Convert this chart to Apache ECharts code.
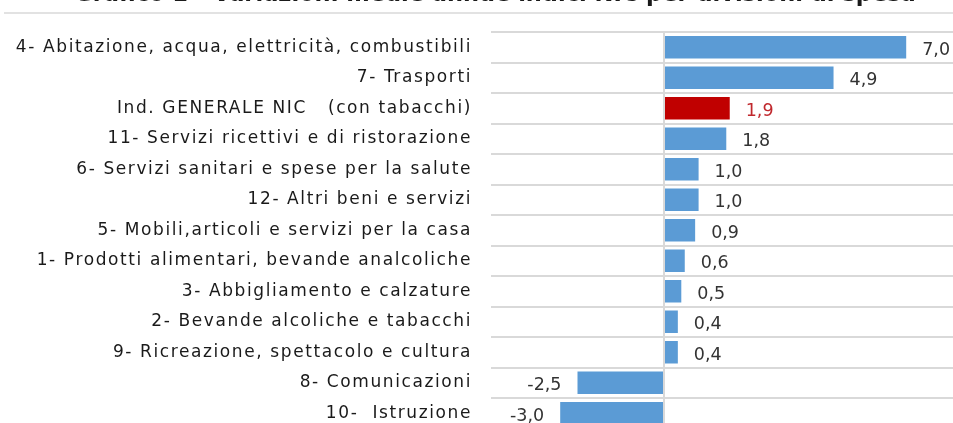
<!DOCTYPE html>
<html>
<head>
<meta charset="utf-8">
<script src="https://cdn.jsdelivr.net/npm/echarts@6/dist/echarts.min.js"></script>
<style>html,body{margin:0;padding:0;background:#fff;}#c{width:953px;height:423px;}</style>
</head>
<body>
<div id="c"></div>
<script>
const categories = [
  "4- Abitazione, acqua, elettricità, combustibili",
  "7- Trasporti",
  "Ind. GENERALE NIC   (con tabacchi)",
  "11- Servizi ricettivi e di ristorazione",
  "6- Servizi sanitari e spese per la salute",
  "12- Altri beni e servizi",
  "5- Mobili,articoli e servizi per la casa",
  "1- Prodotti alimentari, bevande analcoliche",
  "3- Abbigliamento e calzature",
  "2- Bevande alcoliche e tabacchi",
  "9- Ricreazione, spettacolo e cultura",
  "8- Comunicazioni",
  "10-  Istruzione"
];
const values = [7.0, 4.9, 1.9, 1.8, 1.0, 1.0, 0.9, 0.6, 0.5, 0.4, 0.4, -2.5, -3.0];
const highlightIndex = 2;
const titleText = "Grafico 1 - Variazioni medie annue indici NIC per divisioni di spesa";

// Category labels in the reference are drawn with loose letter spacing (Excel/Tahoma look).
(function () {
  const proto = CanvasRenderingContext2D.prototype;
  const orig = proto.fillText;
  proto.fillText = function (t, x, y, m) {
    if ('letterSpacing' in this) {
      this.letterSpacing = /(^|\s)17px/.test(this.font) ? '1.6px' : '0px';
    }
    return m === undefined ? orig.call(this, t, x, y) : orig.call(this, t, x, y, m);
  };
})();

const FONT = "DejaVu Sans";
const chart = echarts.init(document.getElementById('c'));
const data = values.map((v, i) => {
  const isH = i === highlightIndex;
  return {
    value: v,
    itemStyle: { color: isH ? '#c00000' : '#5b9bd5' },
    label: {
      position: v < 0 ? 'left' : 'right',
      color: isH ? '#c0282d' : '#333333'
    }
  };
});
chart.setOption({
  animation: false,
  graphic: [
    { type: 'rect', shape: { x: 4, y: 12, width: 949, height: 2 }, style: { fill: '#e2e2e2' }, silent: true },
    { type: 'text', x: 495, y: 6.3, style: { text: titleText, fill: '#1a1a1a', font: 'bold 22.5px "' + FONT + '"', textAlign: 'center', textVerticalAlign: 'bottom' }, silent: true }
  ],
  grid: { left: 491, width: 484.4, top: 32, height: 396.5, containLabel: false, outerBoundsMode: 'none' },
  xAxis: {
    type: 'value', min: -5, max: 9, interval: 1,
    axisLine: { show: false }, axisTick: { show: false }, axisLabel: { show: false },
    splitLine: { show: false }
  },
  yAxis: {
    type: 'category', data: categories, inverse: true,
    axisLine: { show: false, onZero: false }, axisTick: { show: false },
    axisLabel: { fontFamily: FONT, fontSize: 17, color: '#1a1a1a', margin: 19 },
    splitLine: { show: true, lineStyle: { color: '#d9d9d9', width: 2 } }
  },
  series: [{
    type: 'bar', data: data, barWidth: 22.5,
    label: {
      show: true, fontFamily: FONT, fontSize: 17.5, distance: 16, offset: [0, 3],
      formatter: p => p.value.toFixed(1).replace('.', ',')
    },
    markLine: {
      silent: true, symbol: 'none', label: { show: false },
      lineStyle: { color: '#d9d9d9', width: 2, type: 'solid' },
      data: [{ xAxis: 0 }]
    }
  }]
});
</script>
</body>
</html>
